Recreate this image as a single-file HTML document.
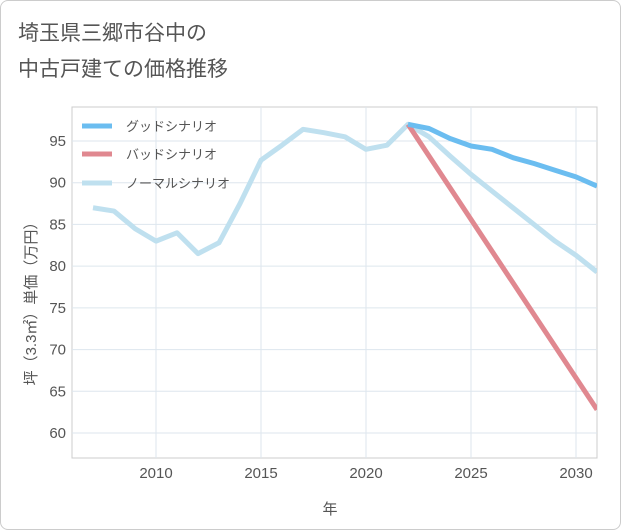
<!DOCTYPE html>
<html><head><meta charset="utf-8"><style>
body{margin:0;width:621px;height:530px;background:#fff;font-family:"Liberation Sans","Noto Sans CJK JP",sans-serif;}
#wrap{position:absolute;left:0;top:0;width:619px;height:528px;border:1px solid #ccc;border-radius:8px;}
svg{position:absolute;left:0;top:0;}
</style></head><body>
<div id="wrap"></div>
<svg id="c" width="621" height="530">
<text x="18" y="40" font-size="21" fill="#555">埼玉県三郷市谷中の</text>
<text x="18" y="76" font-size="21" fill="#555">中古戸建ての価格推移</text>
<text x="330" y="514" font-size="15" fill="#555" text-anchor="middle">年</text>
<text transform="translate(36,300) rotate(-90)" font-size="15" fill="#555" text-anchor="middle">坪（3.3㎡）単価（万円）</text>
</svg>
<script>
const years=[2007,2008,2009,2010,2011,2012,2013,2014,2015,2016,2017,2018,2019,2020,2021,2022,2023,2024,2025,2026,2027,2028,2029,2030,2031];
const normal=[87,86.6,84.5,83,84,81.5,82.8,87.5,92.7,94.5,96.4,96,95.5,94,94.5,97,95.5,93.2,91,89,87,85,83,81.3,79.3];
const goodYears=[2022,2023,2024,2025,2026,2027,2028,2029,2030,2031];
const good=[97,96.5,95.3,94.4,94,93,92.3,91.5,90.7,89.6];
const badYears=[2022,2031];
const bad=[97,62.8];
const xTicks=[2010,2015,2020,2025,2030];
const yTicks=[60,65,70,75,80,85,90,95];
const L=72,R=597,T=107,B=458;
const X=y=>156+(y-2010)*21;
const Y=v=>433-(v-60)*(292/35);
const s=document.getElementById('c');
const NS='http://www.w3.org/2000/svg';
function mk(t,a){const e=document.createElementNS(NS,t);for(const k in a)e.setAttribute(k,a[k]);s.appendChild(e);return e;}
const bg=mk('rect',{x:L,y:T,width:R-L,height:B-T,fill:'#fff',stroke:'#ccc'});


xTicks.forEach(t=>{const l=mk('line',{x1:X(t),x2:X(t),y1:T,y2:B,stroke:'#dde6ee'});


const tx=mk('text',{x:X(t),y:478,'font-size':15,fill:'#555','text-anchor':'middle'});tx.textContent=t;

});
yTicks.forEach(t=>{const l=mk('line',{x1:L,x2:R,y1:Y(t),y2:Y(t),stroke:'#dde6ee'});


const tx=mk('text',{x:66,y:Y(t)+5,'font-size':15,fill:'#555','text-anchor':'end'});tx.textContent=t;

});
const g=document.createElementNS(NS,'g');g.setAttribute('clip-path','url(#cp)');
const cp=mk('clipPath',{id:'cp'});const cr=document.createElementNS(NS,'rect');
cr.setAttribute('x',L);cr.setAttribute('y',T);cr.setAttribute('width',R-L);cr.setAttribute('height',B-T);cp.appendChild(cr);
s.appendChild(g);
function line(xs,vs,col,name){const p=document.createElementNS(NS,'polyline');
p.setAttribute('points',xs.map((y,i)=>X(y)+','+Y(vs[i])).join(' '));
p.setAttribute('fill','none');p.setAttribute('stroke',col);p.setAttribute('stroke-width',5);p.setAttribute('stroke-linejoin','round');


g.appendChild(p);}
line(years,normal,'#bfe0ef','normal-scenario-line');
line(badYears,bad,'#e08890','bad-scenario-line');
line(goodYears,good,'#6bbdf0','good-scenario-line');
[['グッドシナリオ','#6bbdf0',126],['バッドシナリオ','#e08890',154],['ノーマルシナリオ','#bfe0ef',183]].forEach(([n,c,y])=>{
const l=mk('line',{x1:82,x2:112,y1:y,y2:y,stroke:c,'stroke-width':5});


const t=mk('text',{x:126,y:y+5,'font-size':13,fill:'#555'});t.textContent=n;

});
</script>
</body></html>
